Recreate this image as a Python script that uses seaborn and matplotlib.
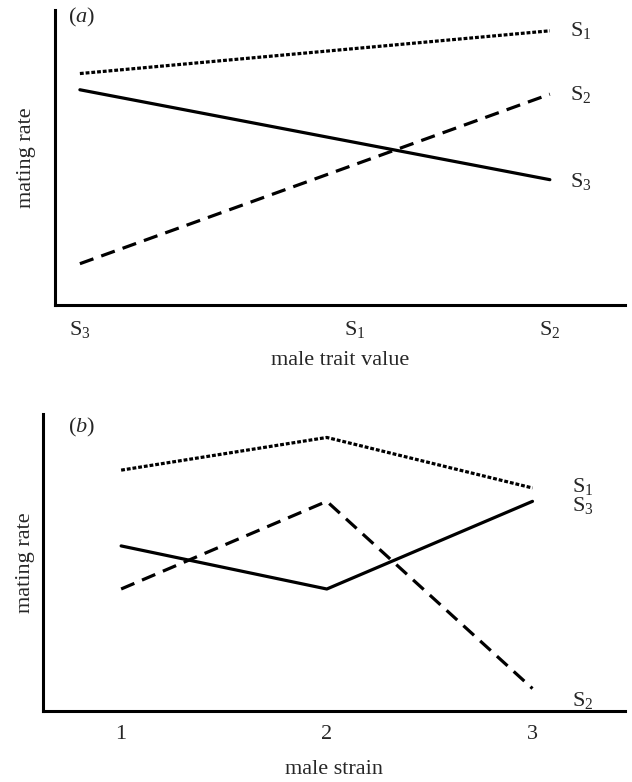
import matplotlib
matplotlib.use("Agg")
import matplotlib.pyplot as plt
import seaborn as sns
import pandas as pd

sns.set_theme(style="white")
plt.rcParams['font.family'] = ['Liberation Serif', 'DejaVu Serif']
plt.rcParams['mathtext.fontset'] = 'custom'
plt.rcParams['mathtext.rm'] = 'Liberation Serif'
plt.rcParams['mathtext.it'] = 'Liberation Serif:italic'
plt.rcParams['mathtext.default'] = 'regular'

# ---- panel (a) data ----
a_trait_labels = ['S$_3$', 'S$_1$', 'S$_2$']
a_trait_pos = [0.0, 0.585, 1.0]
a_x = [0.0, 1.0]
a_S1 = [7.85, 9.3]
a_S3 = [7.3, 4.25]
a_S2 = [1.4, 7.15]

# ---- panel (b) data ----
b_strains = [1, 2, 3]
b_S1 = [8.1, 9.2, 7.5]
b_S3 = [5.55, 4.1, 7.05]
b_S2 = [4.1, 7.05, 0.75]

series_names = ['S1', 'S2', 'S3']
series_labels = {'S1': 'S$_1$', 'S2': 'S$_2$', 'S3': 'S$_3$'}
dashes = {'S1': (1.2, 0.6), 'S2': (4.5, 2.6), 'S3': ''}

df_a = pd.DataFrame({
    'x': a_x * 3,
    'y': a_S1 + a_S2 + a_S3,
    'strain': ['S1'] * 2 + ['S2'] * 2 + ['S3'] * 2,
})
df_b = pd.DataFrame({
    'x': b_strains * 3,
    'y': b_S1 + b_S2 + b_S3,
    'strain': ['S1'] * 3 + ['S2'] * 3 + ['S3'] * 3,
})

FS = 16
fig = plt.figure(figsize=(6.32, 7.82), dpi=100)
ax1 = fig.add_axes([0.087, 0.610, 0.902, 0.377])
ax2 = fig.add_axes([0.068, 0.091, 0.921, 0.380])

for ax, df in [(ax1, df_a), (ax2, df_b)]:
    ax.set_facecolor('none')
    sns.lineplot(data=df, x='x', y='y', style='strain', dashes=dashes,
                 color='black', linewidth=2.3, legend=False, ax=ax,
                 style_order=series_names)
    for spine in ['top', 'right']:
        ax.spines[spine].set_visible(False)
    for spine in ['left', 'bottom']:
        ax.spines[spine].set_color('black')
        ax.spines[spine].set_linewidth(2.2)
    ax.set_yticks([])
    ax.tick_params(axis='x', length=0, labelsize=FS, pad=10)
    ax.set_ylim(0, 10)

# panel a
ax1.set_xlim(-0.053, 1.16)
ax1.set_xticks(a_trait_pos)
ax1.set_xticklabels(a_trait_labels)
ax1.set_xlabel('male trait value', fontsize=FS, labelpad=8)
ax1.set_ylabel('mating rate', fontsize=FS, labelpad=14)
ax1.text(0.023, 0.976, '($\\mathit{a}$)', transform=ax1.transAxes, fontsize=FS,
         va='center', ha='left')
for name, vals, dy in [('S1', a_S1, 0.0), ('S2', a_S2, 0.0), ('S3', a_S3, -0.05)]:
    ax1.text(1.043, vals[-1] + dy, series_labels[name], fontsize=FS,
             va='center', ha='left')

# panel b
ax2.set_xlim(0.62, 3.45)
ax2.set_xticks(b_strains)
ax2.set_xticklabels([str(s) for s in b_strains])
ax2.set_xlabel('male strain', fontsize=FS, labelpad=12)
ax2.set_ylabel('mating rate', fontsize=FS, labelpad=6)
ax2.text(0.043, 0.953, '($\\mathit{b}$)', transform=ax2.transAxes, fontsize=FS,
         va='center', ha='left')
for name, vals, dy in [('S1', b_S1, 0.05), ('S3', b_S3, -0.15), ('S2', b_S2, -0.4)]:
    ax2.text(3.19, vals[-1] + dy, series_labels[name], fontsize=FS,
             va='center', ha='left')

fig.savefig('out.png', dpi=100)
